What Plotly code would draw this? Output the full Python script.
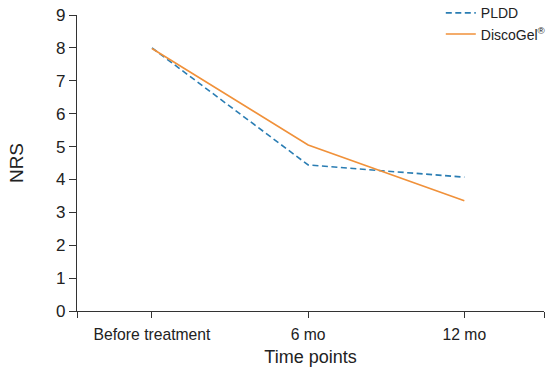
import plotly.graph_objects as go

categories = ["Before treatment", "6 mo", "12 mo"]
pldd = [8.0, 4.44, 4.07]
discogel = [7.98, 5.05, 3.35]
y_ticks = list(range(0, 10))

x_idx = list(range(len(categories)))
x_lo, x_hi = -0.48, 2.51

fig = go.Figure()
fig.add_trace(go.Scatter(x=x_idx, y=pldd, mode="lines", name="PLDD",
                         line=dict(color="#2a7db3", width=1.6, dash="6px,3.5px")))
fig.add_trace(go.Scatter(x=x_idx, y=discogel, mode="lines", name="DiscoGel<sup>®</sup>",
                         line=dict(color="#f0913a", width=1.6)))

font_family = "Liberation Sans, Arial, sans-serif"
fig.update_layout(
    width=554, height=376,
    margin=dict(l=77, r=10, t=15, b=65, autoexpand=False),
    paper_bgcolor="white", plot_bgcolor="white",
    font=dict(family=font_family, color="#222222"),
    showlegend=True,
    legend=dict(x=0.779, y=1.06, xanchor="left", yanchor="top",
                font=dict(size=14, family=font_family, color="#222222"),
                bgcolor="rgba(0,0,0,0)", tracegroupgap=0, itemwidth=30),
    xaxis=dict(range=[x_lo, x_hi], tickmode="array",
               tickvals=[x_lo] + x_idx + [x_hi],
               ticktext=[""] + categories + [""],
               showline=True, linecolor="#333333", linewidth=1.2,
               ticks="outside", ticklen=6, tickcolor="#333333", tickwidth=1.2,
               showgrid=False, zeroline=False, automargin=False,
               ticklabeloverflow="allow", ticklabelstandoff=3,
               tickfont=dict(size=15.7),
               title=dict(text="Time points", font=dict(size=18), standoff=8)),
    yaxis=dict(range=[0, 9], tickmode="array", tickvals=y_ticks,
               showline=True, linecolor="#333333", linewidth=1.2,
               ticks="outside", ticklen=7, tickcolor="#333333", tickwidth=1.2,
               showgrid=False, zeroline=False, automargin=False,
               ticklabeloverflow="allow",
               tickfont=dict(size=17),
               title=dict(text="NRS", font=dict(size=19), standoff=27)),
)

fig.write_html("out.html", config={"displayModeBar": False},
               post_script="document.body.style.margin='0';")
